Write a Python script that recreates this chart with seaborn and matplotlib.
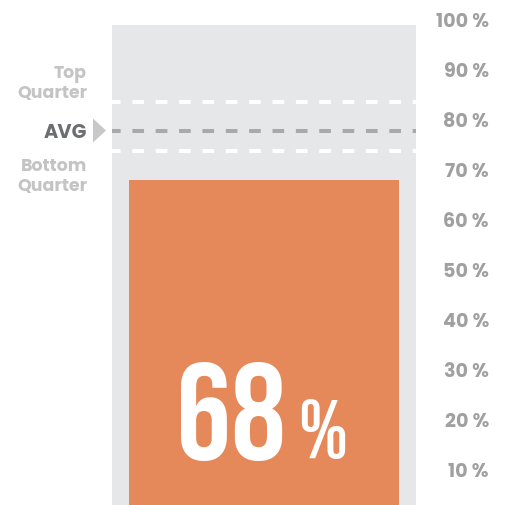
import pandas as pd
import matplotlib.pyplot as plt
import matplotlib.transforms as mtransforms
from matplotlib.patches import Polygon
import seaborn as sns

# values
score = 68
scale_max = 99
top_quarter = 83.6
average = 77.9
bottom_quarter = 73.8
tick_values = [10, 20, 30, 40, 50, 60, 70, 80, 90, 100]
tick_labels = [f'{v} %' for v in tick_values]

gray = '#e6e7e8'
orange = '#e6895a'

sns.set_theme(style='white')
plt.rcParams['font.family'] = ['Poppins', 'Lato', 'DejaVu Sans']

fig = plt.figure(figsize=(5.09, 5.05), dpi=100)
ax = fig.add_axes([112 / 509, 0, 304 / 509, 1])

df = pd.DataFrame({'group': ['score'], 'scale': [scale_max], 'value': [score]})
sns.barplot(data=df, x='group', y='scale', color=gray, width=1.0,
            saturation=1, linewidth=0, ax=ax)
sns.barplot(data=df, x='group', y='value', color=orange, width=0.885,
            saturation=1, linewidth=0, ax=ax)

ax.set_xlim(-0.5, 0.5)
ax.set_ylim(3, 104)
ax.axis('off')

# quartile and average lines
lw = 2.9
ax.axhline(top_quarter, color='white', lw=lw, linestyle=(0.75, (2.9, 2.9)))
ax.axhline(bottom_quarter, color='white', lw=lw, linestyle=(0.75, (2.9, 2.9)))
ax.axhline(average, color='#a7a9ac', lw=lw, linestyle=(0.75, (2.9, 2.9)))

# right scale labels
trans = mtransforms.blended_transform_factory(ax.transAxes, ax.transData)
for v, lab in zip(tick_values, tick_labels):
    ax.text(1.24, v, lab, transform=trans, ha='right', va='center_baseline',
            fontsize=13.8, fontweight='bold', color='#a0a0a0', clip_on=False)

# left labels
ax.text(-0.082, 87.2, 'Top\nQuarter', transform=trans,
        ha='right', va='center', multialignment='right', linespacing=1.08,
        fontsize=12.5, fontweight='bold', color='#c4c4c4', clip_on=False)
ax.text(-0.082, 68.6, 'Bottom\nQuarter', transform=trans,
        ha='right', va='center', multialignment='right', linespacing=1.08,
        fontsize=12.5, fontweight='bold', color='#c4c4c4', clip_on=False)
ax.text(-0.082, average, 'AVG', transform=trans, ha='right', va='center_baseline',
        fontsize=14, fontweight='bold', color='#6d6e71', clip_on=False)
tri = Polygon([[-0.0625, average + 2.4], [-0.0197, average], [-0.0625, average - 2.4]],
              closed=True, transform=trans, color='#c8c8c8', clip_on=False, lw=0)
ax.add_patch(tri)

# big value
big_font = ['Bebas Neue', 'Oswald', 'DejaVu Sans']
ax.text(0.574, 12, f'{score}', transform=trans, ha='right', va='baseline',
        fontsize=99, family=big_font, color='white')
ax.text(0.612, 12.4, '%', transform=trans, ha='left', va='baseline',
        fontsize=60, family=big_font, color='white')

fig.savefig('out.png', dpi=100)
